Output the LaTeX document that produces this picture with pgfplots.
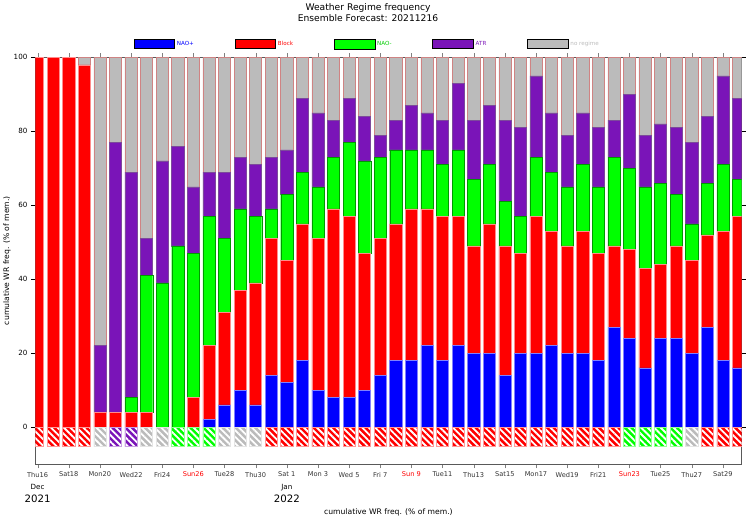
\documentclass[border=0pt]{standalone}
\usepackage{pgfplots}
\pgfplotsset{compat=1.18}
\usepackage{pgfplotstable}
\usetikzlibrary{patterns.meta}
\usepackage{fontspec}
\setmainfont{DejaVu Sans}
\definecolor{wrblue}{HTML}{0000FF}
\definecolor{wrred}{HTML}{FF0000}
\definecolor{wrgreen}{HTML}{00FF00}
\definecolor{wrpurple}{HTML}{7A14B8}
\definecolor{wrgrey}{HTML}{BBBBBB}
\pgfplotstableread{
x blue red green purple grey
0 0 100 0 0 0
1 0 100 0 0 0
2 0 100 0 0 0
3 0 98 0 0 2
4 0 4 0 18 78
5 0 4 0 73 23
6 0 4 4 61 31
7 0 4 37 10 49
8 0 0 39 33 28
9 0 0 49 27 24
10 0 8 39 18 35
11 2 20 35 12 31
12 6 25 20 18 31
13 10 27 22 14 27
14 6 33 18 14 29
15 14 37 8 14 27
16 12 33 18 12 25
17 18 37 14 20 11
18 10 41 14 20 15
19 8 51 14 10 17
20 8 49 20 12 11
21 10 37 25 12 16
22 14 37 22 6 21
23 18 37 20 8 17
24 18 41 16 12 13
25 22 37 16 10 15
26 18 39 14 12 17
27 22 35 18 18 7
28 20 29 18 16 17
29 20 35 16 16 13
30 14 35 12 22 17
31 20 27 10 24 19
32 20 37 16 22 5
33 22 31 16 16 15
34 20 29 16 14 21
35 20 33 18 14 15
36 18 29 18 16 19
37 27 22 24 10 17
38 24 24 22 20 10
39 16 27 22 14 21
40 24 20 22 16 18
41 24 25 14 18 19
42 20 25 10 22 23
43 27 25 14 18 16
44 18 35 18 24 5
45 16 41 10 22 11
}\wr
\begin{document}
\begin{tikzpicture}
\pgfplotsset{
  base/.style={scale only axis, width=693pt, height=399pt,
    xmin=-0.15, xmax=45.2, ymin=-10, ymax=100}}
\begin{axis}[base, ybar stacked, bar width=0.78, bar shift=0pt,
  axis line style={draw=gray!70!black},
  ytick={0,20,40,60,80,100},
  yticklabel style={font=\fontsize{7}{8}\selectfont},
  /pgf/number format/assume math mode=true,
  ytick style={draw=black}, ytick align=outside,
  xtick={0,2,...,44}, xtick align=outside,
  xticklabel style={font=\fontsize{6.5}{7}\selectfont, text=black!80},
  xticklabels={Thu16,Sat18,Mon20,Wed22,Fri24,\textcolor{red}{Sun26},Tue28,Thu30,Sat 1,Mon 3,Wed 5,Fri 7,\textcolor{red}{Sun 9},Tue11,Thu13,Sat15,Mon17,Wed19,Fri21,\textcolor{red}{Sun23},Tue25,Thu27,Sat29},
  ylabel={cumulative WR freq. (\% of mem.)},
  ylabel style={font=\fontsize{7.5}{8}\selectfont, yshift=-4pt},
  xlabel={cumulative WR freq. (\% of mem.)},
  xlabel style={font=\fontsize{7.5}{8}\selectfont, yshift=-24pt},
  title={Weather Regime frequency\\Ensemble Forecast: 20211216},
  title style={font=\fontsize{9}{10.5}\selectfont, align=center, yshift=26pt, xshift=-20pt},
  legend columns=5,
  legend style={at={(0.47,1.015)}, anchor=south, draw=none, fill=none,
    font=\fontsize{5.5}{6}\selectfont,
    /tikz/every even column/.append style={column sep=38pt}},
  legend image code/.code={\draw[#1,draw=black] (0pt,-4.5pt) rectangle (40pt,4.5pt);},
  clip mode=individual,
]
\addplot[fill=wrblue, draw=wrblue!50!white, line width=0.5pt] table[x=x,y=blue]{\wr};
\addlegendentry{\textcolor{wrblue}{NAO+}}
\addplot[fill=wrred, draw=wrred!45!white, line width=0.5pt] table[x=x,y=red]{\wr};
\addlegendentry{\textcolor{wrred}{Block}}
\addplot[fill=wrgreen, draw=wrgreen!60!black, line width=0.4pt] table[x=x,y=green]{\wr};
\addlegendentry{\textcolor{wrgreen!80!black}{NAO-}}
\addplot[fill=wrpurple, draw=wrpurple!50!gray, line width=0.5pt] table[x=x,y=purple]{\wr};
\addlegendentry{\textcolor{wrpurple}{ATR}}
\addplot[fill=wrgrey, draw=wrgrey!70!wrred, line width=0.5pt] table[x=x,y=grey]{\wr};
\addlegendentry{\textcolor{wrgrey}{no regime}}
\node[font=\fontsize{7}{8}\selectfont, anchor=north] at (axis cs:0,-14.5) {Dec};
\node[font=\fontsize{10}{11}\selectfont, anchor=north] at (axis cs:0,-17.3) {2021};
\node[font=\fontsize{7}{8}\selectfont, anchor=north] at (axis cs:16,-14.5) {Jan};
\node[font=\fontsize{10}{11}\selectfont, anchor=north] at (axis cs:16,-17.3) {2022};
\end{axis}
\begin{axis}[base, ybar, bar width=0.78, bar shift=0pt, axis lines=none, ticks=none]
\pgfplotsset{hatch/.style={fill=#1, draw=#1!40!white, line width=0.5pt,
   postaction={pattern={Lines[angle=-45,distance=4.5pt,line width=1.8pt]}, pattern color=white}}}
\addplot[hatch=wrred, bar shift=0pt] coordinates {(0,-5.3)(1,-5.3)(2,-5.3)(3,-5.3)(15,-5.3)(16,-5.3)(17,-5.3)(18,-5.3)(19,-5.3)(20,-5.3)(21,-5.3)(22,-5.3)(23,-5.3)(24,-5.3)(25,-5.3)(26,-5.3)(27,-5.3)(28,-5.3)(29,-5.3)(30,-5.3)(31,-5.3)(32,-5.3)(33,-5.3)(34,-5.3)(35,-5.3)(36,-5.3)(37,-5.3)(43,-5.3)(44,-5.3)(45,-5.3)};
\addplot[hatch=wrgrey, bar shift=0pt] coordinates {(4,-5.3)(7,-5.3)(8,-5.3)(12,-5.3)(13,-5.3)(14,-5.3)(42,-5.3)};
\addplot[hatch=wrpurple, bar shift=0pt] coordinates {(5,-5.3)(6,-5.3)};
\addplot[hatch=wrgreen, bar shift=0pt] coordinates {(9,-5.3)(10,-5.3)(11,-5.3)(38,-5.3)(39,-5.3)(40,-5.3)(41,-5.3)};
\end{axis}
\end{tikzpicture}
\end{document}
